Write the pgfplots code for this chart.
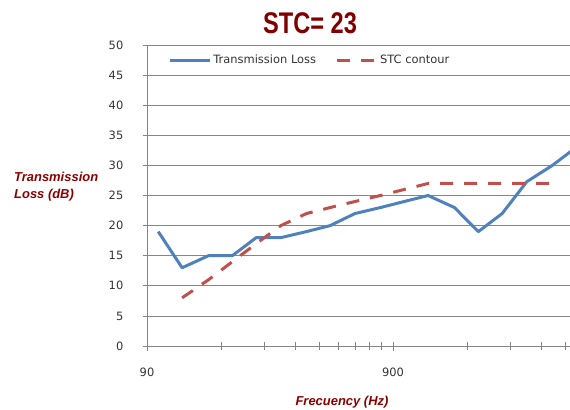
\documentclass[border=0pt]{standalone}
\usepackage{fontspec}
\setmainfont{DejaVu Sans}
\newfontfamily\arial{Liberation Sans}
\usepackage{pgfplots}
\pgfplotsset{compat=1.18}
\definecolor{tlblue}{RGB}{79,129,189}
\definecolor{stcred}{RGB}{192,80,77}
\definecolor{gridgray}{RGB}{134,134,134}
\definecolor{titlered}{RGB}{128,0,0}
\definecolor{labelred}{RGB}{140,0,0}
\begin{document}
\begin{tikzpicture}[x=1bp,y=1bp]
\path[use as bounding box] (0,0) rectangle (570,409);
\begin{axis}[
  at={(147bp,63bp)}, anchor=south west,
  scale only axis, width=423bp, height=301bp,
  xmode=log, xmin=90, xmax=4719, ymin=0, ymax=50,
  ytick={0,5,...,50},
  /pgf/number format/assume math mode=true,
  xtick={90,900}, xticklabels={90,900},
  minor xtick={180,270,360,450,540,630,720,810,1800,2700,3600,4500},
  axis x line=bottom, axis y line=left,
  axis line style={-, gridgray, line width=0.75bp},
  tick align=center,
  major tick length=9bp, minor tick length=8bp,
  every tick/.style={gridgray, line width=0.75bp},
  ymajorgrids, grid style={gridgray, line width=0.75bp},
  ticklabel style={font=\fontsize{11.5}{12}\selectfont, text=black!80},
  yticklabel style={anchor=east, inner sep=0pt, xshift=-19bp},
  xticklabel style={anchor=north, inner sep=0pt, yshift=-17bp},
  legend style={at={(axis description cs:0.05,0.95)}, anchor=west, draw=none, fill=none,
    font=\fontsize{11.5}{12}\selectfont, text=black!80, inner sep=0pt,
    /tikz/every even column/.append style={column sep=17bp}},
  legend columns=2,
  legend image code/.code={\draw[#1] (0bp,0bp) -- (40bp,0bp);},
]
\addplot[tlblue, line width=3bp, line join=round] coordinates {
(100,19)(125,13)(160,15)(200,15)(250,18)(315,18)(400,19)(500,20)(630,22)(800,23)
(1000,24)(1250,25)(1600,23)(2000,19)(2500,22)(3150,27.3)(4000,30)(5000,33)};
\addlegendentry{Transmission Loss}
\addplot[stcred, line width=3bp, dash pattern=on 13bp off 11bp] coordinates {
(125,8)(160,11)(200,14)(250,17)(315,20)(400,22)(500,23)(630,24)(800,25)(1000,26)
(1250,27)(1600,27)(2000,27)(2500,27)(3150,27)(4000,27)};
\addlegendentry{STC contour}
\end{axis}
\node[anchor=base, text=titlered, inner sep=0pt] at (310,375.7)
  {\scalebox{0.79}[1]{\arial\bfseries\fontsize{30}{30}\selectfont STC= 23}};
\node[anchor=base west, text=labelred, inner sep=0pt, align=left,
  font=\arial\bfseries\itshape\fontsize{13}{16.6}\selectfont] at (14,210.7)
  {Transmission\\Loss (dB)};
\node[anchor=base, text=labelred, inner sep=0pt] at (342,4)
  {\arial\bfseries\itshape\fontsize{13}{13}\selectfont Frecuency (Hz)};
\end{tikzpicture}
\end{document}
